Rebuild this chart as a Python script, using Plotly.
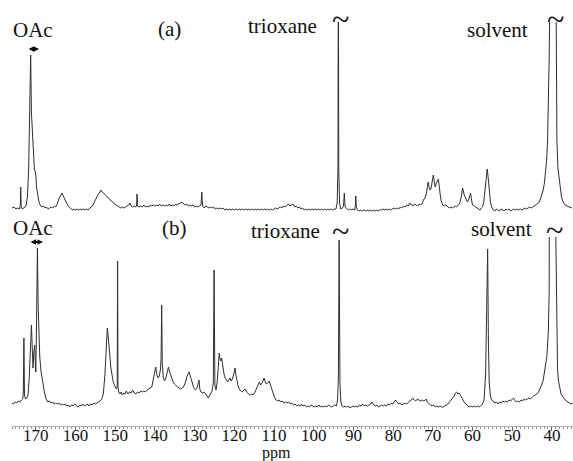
import plotly.graph_objects as go

# ---------------- data ----------------
# Spectrum (a): chemical shift (ppm) and relative intensity
ppm_a = [176.0, 175.5, 175.0, 174.5, 174.1, 173.9, 173.8, 173.7, 173.4, 173.0, 172.7, 172.4, 172.1, 171.8, 171.5,
         171.3, 171.1, 170.95, 170.8, 170.6, 170.35, 170.1, 170.0, 169.8, 169.5, 169.2, 168.9, 168.5, 168.1, 167.7,
         167.3, 166.9, 166.5, 166.1, 165.7, 165.3, 165.0, 164.6, 164.2, 163.8, 163.4, 163.1, 162.8, 162.4, 162.0,
         161.6, 161.2, 160.8, 160.4, 160.0, 159.6, 159.2, 158.8, 158.4, 158.0, 157.6, 157.2, 156.8, 156.4, 156.0,
         155.6, 155.2, 154.8, 154.4, 154.0, 153.6, 153.3, 153.0, 152.6, 152.2, 151.8, 151.4, 151.0, 150.6, 150.2,
         149.8, 149.4, 149.0, 148.6, 148.2, 147.8, 147.4, 147.0, 146.6, 146.3, 146.0, 145.6, 145.2, 144.8, 144.6,
         144.5, 144.4, 144.0, 143.6, 143.2, 142.8, 142.4, 142.0, 141.6, 141.2, 140.8, 140.4, 140.0, 139.6, 139.2,
         138.8, 138.4, 138.0, 137.6, 137.2, 136.8, 136.4, 136.0, 135.6, 135.2, 134.8, 134.4, 134.0, 133.6, 133.2,
         132.8, 132.4, 132.0, 131.6, 131.2, 130.8, 130.4, 130.0, 129.6, 129.2, 128.8, 128.4, 128.2, 128.0, 127.6,
         127.2, 126.8, 126.4, 126.0, 125.6, 125.2, 124.8, 124.4, 124.0, 123.6, 123.2, 122.8, 122.4, 122.0, 121.6,
         121.2, 120.8, 120.4, 120.0, 119.6, 119.2, 118.8, 118.4, 118.0, 117.6, 117.2, 116.8, 116.4, 116.0, 115.6,
         115.2, 114.8, 114.4, 114.0, 113.6, 113.2, 112.8, 112.4, 112.0, 111.6, 111.2, 110.8, 110.4, 110.0, 109.6,
         109.2, 108.8, 108.4, 108.0, 107.6, 107.2, 106.8, 106.4, 106.0, 105.6, 105.2, 104.8, 104.4, 104.0, 103.6,
         103.2, 102.8, 102.4, 102.0, 101.6, 101.2, 100.8, 100.4, 100.0, 99.6, 99.2, 98.8, 98.4, 98.0, 97.6,
         97.2, 96.8, 96.4, 96.0, 95.6, 95.2, 94.8, 94.4, 94.1, 93.9, 93.8, 93.7, 93.5, 93.2, 92.8,
         92.5, 92.3, 92.1, 91.7, 91.3, 90.9, 90.5, 90.1, 89.7, 89.5, 89.4, 89.3, 89.0, 88.6, 88.2,
         87.8, 87.4, 87.0, 86.6, 86.2, 85.8, 85.4, 85.0, 84.6, 84.2, 83.8, 83.4, 83.0, 82.6, 82.2,
         81.8, 81.4, 81.0, 80.6, 80.2, 79.8, 79.4, 79.0, 78.6, 78.2, 77.8, 77.4, 77.0, 76.6, 76.2,
         75.8, 75.4, 75.0, 74.6, 74.2, 73.8, 73.4, 73.0, 72.6, 72.4, 72.0, 71.6, 71.2, 70.9, 70.6,
         70.3, 69.9, 69.6, 69.4, 69.1, 68.6, 68.2, 67.9, 67.5, 67.1, 66.7, 66.3, 65.9, 65.5, 65.1,
         64.7, 64.3, 64.0, 63.6, 63.2, 62.8, 62.5, 62.1, 61.7, 61.3, 61.0, 60.7, 60.5, 60.2, 60.0,
         59.6, 59.2, 58.8, 58.4, 58.1, 57.8, 57.5, 57.2, 56.9, 56.6, 56.3, 56.0, 55.8, 55.5, 55.2,
         54.8, 54.4, 54.0, 53.6, 53.2, 52.8, 52.4, 52.0, 51.6, 51.2, 50.8, 50.4, 50.0, 49.6, 49.2,
         48.8, 48.4, 48.0, 47.6, 47.2, 46.8, 46.4, 46.0, 45.6, 45.2, 44.8, 44.4, 43.9, 43.4, 43.0,
         42.6, 42.2, 41.9, 41.6, 41.3, 41.1, 40.9, 40.7, 40.55, 39.75, 38.95, 38.85, 38.75, 38.5, 38.2,
         37.9, 37.6, 37.2, 36.7, 36.2, 35.7, 35.0]
int_a = [0, 1, -1, 0, -1, 3, 21, 2, -1, 0, 1, 3, 12, 40, 95,
         153, 95, 82, 80, 50, 38, 36, 33, 20, 10, 6, 3, 1, 2, 0,
         1, -1, 0, 1, 0, 2, 1, 4, 9, 12, 15, 12, 9, 6, 3,
         1, -1, -2, -1, -2, -1, -2, -1, -2, -1, -2, -1, -2, 0, 1,
         3, 7, 10, 13, 15, 18, 16, 15, 13, 12, 10, 9, 7, 6, 4,
         3, 2, 1, 0, 1, 0, 1, 2, 3, 5, 2, 1, 2, 1, 3,
         14, 2, 1, 2, 1, 3, 1, 2, 1, 3, 2, 3, 2, 3, 2,
         4, 2, 3, 2, 3, 2, 4, 2, 3, 2, 4, 3, 4, 5, 6,
         4, 3, 4, 2, 3, 2, 3, 1, 2, 1, 2, 3, 16, 2, 0,
         2, 1, 0, 1, 0, 1, -1, 0, -1, 0, -1, 0, -2, -1, -2,
         -1, -2, -1, -2, -1, -2, -1, -2, -1, -2, -1, -2, -1, -2, -1,
         -2, -1, -2, -1, -2, -1, -2, -1, -2, -1, -2, -1, -2, -1, 0,
         -1, 0, 1, 0, 2, 1, 3, 4, 2, 3, 4, 1, 2, 0, 1,
         -1, 0, -2, -1, -2, -1, -2, -1, -2, -1, -2, -1, -2, -1, -2,
         -1, -2, -1, -2, -1, -2, -1, -1, 5, 40, 260, 40, 5, -1, 0,
         2, 15, 1, -1, -2, -1, -2, -1, -2, 3, 12, 1, -2, -3, -2,
         -3, -2, -3, -2, -3, -2, -3, -2, -3, -2, -3, -2, -2, -1, -2,
         -1, -2, -1, -2, -1, 0, -1, 0, -1, 1, 0, 2, 1, 3, 2,
         5, 3, 2, 4, 3, 2, 4, 3, 5, 8, 10, 15, 26, 20, 18,
         23, 33, 24, 21, 25, 29, 15, 7, 3, 2, 3, 1, 0, 1, 0,
         1, 2, 1, 3, 5, 12, 20, 13, 10, 6, 8, 12, 15, 7, 3,
         2, 1, 0, -1, -2, 0, 1, 5, 18, 30, 39, 28, 18, 6, 1,
         -2, -3, -1, -2, -3, -1, -2, -3, -1, -2, -1, -3, -2, -1, -2,
         -1, -2, -1, -2, -1, 0, -1, 0, 1, 0, 1, 2, 3, 5, 8,
         12, 18, 25, 35, 50, 68, 100, 150, 200, 3000, 200, 120, 68, 40, 28,
         17, 11, 6, 3, 2, 1, 0]

# Spectrum (b)
ppm_b = [176.0, 175.6, 175.2, 174.8, 174.4, 174.0, 173.6, 173.3, 173.15, 173.0, 172.85, 172.6, 172.3, 172.0, 171.7,
         171.4, 171.1, 170.9, 170.7, 170.5, 170.3, 170.15, 170.0, 169.85, 169.6, 169.4, 169.2, 169.0, 168.7, 168.4,
         168.1, 167.8, 167.4, 167.0, 166.6, 166.2, 165.8, 165.4, 165.0, 164.6, 164.2, 163.8, 163.4, 163.0, 162.6,
         162.2, 161.8, 161.4, 161.0, 160.6, 160.2, 159.8, 159.4, 159.0, 158.6, 158.2, 157.8, 157.4, 157.0, 156.6,
         156.2, 155.8, 155.4, 155.0, 154.6, 154.2, 153.8, 153.4, 153.0, 152.6, 152.3, 152.0, 151.8, 151.6, 151.4,
         151.1, 150.8, 150.5, 150.1, 149.7, 149.5, 149.4, 149.3, 149.1, 148.8, 148.5, 148.2, 147.9, 147.5, 147.2,
         146.8, 146.4, 146.0, 145.6, 145.2, 144.8, 144.4, 144.0, 143.6, 143.2, 142.8, 142.4, 142.0, 141.6, 141.2,
         140.8, 140.4, 140.0, 139.8, 139.5, 139.2, 138.9, 138.6, 138.45, 138.3, 138.15, 137.9, 137.6, 137.3, 137.0,
         136.6, 136.3, 135.9, 135.5, 135.1, 134.7, 134.3, 133.9, 133.5, 133.1, 132.7, 132.3, 131.9, 131.4, 131.0,
         130.6, 130.2, 129.8, 129.5, 129.2, 128.9, 128.7, 128.4, 128.0, 127.6, 127.2, 126.9, 126.6, 126.3, 126.0,
         125.6, 125.3, 125.1, 124.9, 124.6, 124.3, 124.0, 123.8, 123.6, 123.4, 123.2, 122.9, 122.6, 122.3, 122.0,
         121.7, 121.4, 121.1, 120.8, 120.5, 120.2, 120.0, 119.8, 119.6, 119.3, 119.0, 118.6, 118.3, 118.0, 117.6,
         117.3, 116.9, 116.5, 116.1, 115.7, 115.3, 114.9, 114.5, 114.1, 113.7, 113.4, 113.0, 112.7, 112.5, 112.2,
         111.9, 111.6, 111.2, 110.9, 110.6, 110.3, 109.9, 109.5, 109.1, 108.7, 108.3, 107.9, 107.5, 107.1, 106.7,
         106.3, 105.9, 105.5, 105.1, 104.7, 104.3, 103.9, 103.5, 103.1, 102.7, 102.3, 101.9, 101.5, 101.1, 100.7,
         100.3, 99.9, 99.5, 99.1, 98.7, 98.3, 97.9, 97.5, 97.1, 96.7, 96.3, 95.9, 95.5, 95.1, 94.7,
         94.3, 94.0, 93.8, 93.6, 93.4, 93.2, 92.9, 92.5, 92.1, 91.7, 91.3, 90.9, 90.5, 90.1, 89.7,
         89.3, 88.9, 88.5, 88.1, 87.7, 87.3, 86.9, 86.5, 86.1, 85.7, 85.3, 84.9, 84.5, 84.1, 83.7,
         83.3, 82.9, 82.5, 82.1, 81.7, 81.3, 80.9, 80.5, 80.1, 79.7, 79.4, 79.0, 78.6, 78.2, 77.8,
         77.4, 77.0, 76.6, 76.2, 75.8, 75.4, 75.1, 74.7, 74.3, 73.9, 73.5, 73.1, 72.7, 72.3, 71.9,
         71.7, 71.4, 71.0, 70.6, 70.2, 69.8, 69.4, 69.0, 68.6, 68.2, 67.8, 67.4, 67.0, 66.6, 66.2,
         65.8, 65.4, 65.0, 64.6, 64.3, 64.0, 63.7, 63.4, 63.1, 62.8, 62.4, 62.0, 61.6, 61.2, 60.8,
         60.4, 60.0, 59.6, 59.2, 58.8, 58.4, 58.0, 57.7, 57.4, 57.1, 56.7, 56.4, 56.2, 56.0, 55.8,
         55.5, 55.2, 54.8, 54.4, 54.0, 53.6, 53.2, 52.8, 52.4, 52.0, 51.6, 51.2, 50.8, 50.4, 50.0,
         49.7, 49.4, 49.0, 48.6, 48.2, 47.8, 47.4, 47.0, 46.6, 46.2, 45.8, 45.4, 45.0, 44.6, 44.2,
         43.8, 43.4, 43.0, 42.6, 42.2, 41.9, 41.6, 41.3, 41.1, 40.9, 40.7, 40.5, 39.75, 39.05, 38.8,
         38.6, 38.4, 38.2, 38.0, 37.7, 37.4, 37.1, 36.8, 36.4, 36.0, 35.6, 35.2, 34.8]
int_b = [0, -1, 1, 0, 2, 1, 3, 4, 10, 65, 8, 4, 5, 7, 22,
         55, 78, 55, 35, 50, 58, 42, 31, 70, 155, 95, 51, 46, 32, 23,
         17, 10, 4, 1, 2, 0, 1, -1, 0, -1, 0, -2, -1, -2, -1,
         -3, -2, -4, -2, -3, -1, -3, -4, -2, -3, -1, -3, -2, -1, -3,
         -1, -2, 0, -1, 0, 1, 2, 4, 9, 28, 55, 75, 68, 61, 50,
         35, 26, 21, 17, 14, 16, 142, 15, 11, 9, 11, 8, 10, 9, 12,
         9, 11, 10, 13, 10, 9, 11, 10, 12, 11, 12, 11, 13, 14, 15,
         16, 24, 33, 36, 28, 25, 27, 34, 45, 98, 40, 26, 22, 24, 29,
         36, 31, 26, 22, 19, 17, 16, 15, 14, 15, 17, 21, 27, 31, 25,
         19, 15, 13, 14, 18, 23, 14, 11, 10, 11, 9, 7, 5, 7, 9,
         12, 20, 133, 18, 13, 22, 40, 50, 44, 42, 45, 36, 29, 25, 22,
         21, 23, 25, 22, 24, 28, 32, 35, 28, 20, 16, 13, 12, 11, 13,
         14, 11, 9, 8, 9, 8, 10, 14, 18, 21, 18, 20, 23, 25, 21,
         19, 20, 22, 18, 14, 9, 6, 3, 2, 3, 1, 2, 0, 1, 0,
         1, -1, 0, -2, -1, -3, -2, -3, -1, -3, -2, -4, -3, -4, -2,
         -3, -4, -3, -4, -2, -4, -3, -4, -3, -4, -2, -3, -4, -3, -2,
         -3, 3, 25, 163, 20, 2, -3, -4, -3, -4, -3, -5, -4, -3, -4,
         -3, -4, -2, -3, -1, -3, -2, -3, -2, -1, 1, -2, -3, -2, -4,
         -3, -2, -3, -2, -3, -1, -2, 0, -1, 2, 3, 1, -1, 0, -2,
         -1, 0, -1, 1, 2, 3, 5, 3, 2, 4, 3, 2, 3, 2, 3,
         4, 1, -1, -2, -3, -2, -4, -3, -4, -3, -4, -4, -3, -2, -1,
         1, 3, 5, 7, 10, 11, 9, 10, 8, 5, 3, 0, -1, -3, -4,
         -3, -4, -3, -4, -3, -4, -3, -2, 0, 3, 30, 90, 154, 60, 20,
         7, 3, 2, 0, 1, -1, 1, 0, 2, 1, 2, 1, 3, 2, 4,
         5, 3, 1, 2, 1, 3, 2, 4, 3, 4, 5, 4, 6, 7, 8,
         9, 11, 14, 18, 23, 30, 38, 46, 58, 73, 110, 175, 3000, 175, 80,
         35, 23, 18, 13, 9, 7, 5, 4, 2, 1, 0, -1, 0]

x_ticks = [170, 160, 150, 140, 130, 120, 110, 100, 90, 80, 70, 60, 50, 40]

# ---------------- figure ----------------
W, H = 573, 461
L, R, T, B = 12, 0, 22, 35
PW, PH = W - L - R, H - T - B


def px(x):
    return (x - L) / PW


def py(y):
    return (H - B - y) / PH


line_style = dict(color="#2f2f2f", width=1)
fig = go.Figure()
fig.add_trace(go.Scatter(x=ppm_b, y=int_b, mode="lines", line=line_style,
                         xaxis="x", yaxis="y", showlegend=False, hoverinfo="skip"))
fig.add_trace(go.Scatter(x=ppm_a, y=int_a, mode="lines", line=line_style,
                         xaxis="x", yaxis="y2", showlegend=False, hoverinfo="skip"))

serif = "Liberation Serif, Times New Roman, serif"
txt = dict(family=serif, size=21, color="#111111")
tilde = dict(family=serif, size=32, color="#111111")

annotations = []
labels = [
    ("OAc", 33, 30, txt), ("(a)", 169, 29, txt), ("trioxane", 282, 26, txt),
    ("~", 340, 19, tilde), ("solvent", 497, 30, txt), ("~", 555, 19, tilde),
    ("OAc", 33, 228, txt), ("(b)", 174, 228, txt), ("trioxane", 285, 231, txt),
    ("~", 340, 231, tilde), ("solvent", 501, 229, txt), ("~", 554, 230, tilde),
]
for t, x, y, f in labels:
    annotations.append(dict(text=t, x=px(x), y=py(y), xref="paper", yref="paper",
                            showarrow=False, font=f, xanchor="center", yanchor="middle"))
annotations.append(dict(text="ppm", x=px(276), y=py(453), xref="paper", yref="paper",
                        showarrow=False, font=dict(family=serif, size=16, color="#111111"),
                        xanchor="center", yanchor="middle"))
# double-headed arrows over the OAc peaks
for (x0, x1, yv, yr) in [(172.2, 169.2, 159, "y2"), (171.7, 168.2, 161, "y")]:
    annotations.append(dict(x=x1, y=yv, ax=x0, ay=yv, xref="x", yref=yr, axref="x", ayref=yr,
                            text="", showarrow=True, arrowhead=2, startarrowhead=2,
                            arrowside="end+start", arrowsize=0.5, startarrowsize=0.5,
                            arrowwidth=2.2, arrowcolor="#111111"))

fig.update_layout(
    width=W, height=H,
    margin=dict(l=L, r=R, t=T, b=B),
    paper_bgcolor="white", plot_bgcolor="white",
    xaxis=dict(range=[176.0, 34.7], anchor="y", showgrid=False, zeroline=False,
               showline=True, linecolor="#b0b0b0", linewidth=1,
               tickvals=x_ticks, ticktext=[str(v) for v in x_ticks],
               ticks="outside", ticklen=4, tickcolor="#666666", tickwidth=1,
               ticklabelstandoff=-10,
               tickfont=dict(family=serif, size=17, color="#111111"),
               minor=dict(dtick=1, ticks="outside", ticklen=2, tickcolor="#999999", tickwidth=1, tick0=0)),
    yaxis=dict(domain=[0, (H - B - 237) / PH], range=[-23, 166], visible=False),
    yaxis2=dict(domain=[(H - B - 215) / PH, 1], range=[-7, 186], visible=False, anchor="x"),
    annotations=annotations,
)

fig.write_html("out.html", config={"displayModeBar": False},
               post_script="document.body.style.margin='0';document.body.style.overflow='hidden';")
